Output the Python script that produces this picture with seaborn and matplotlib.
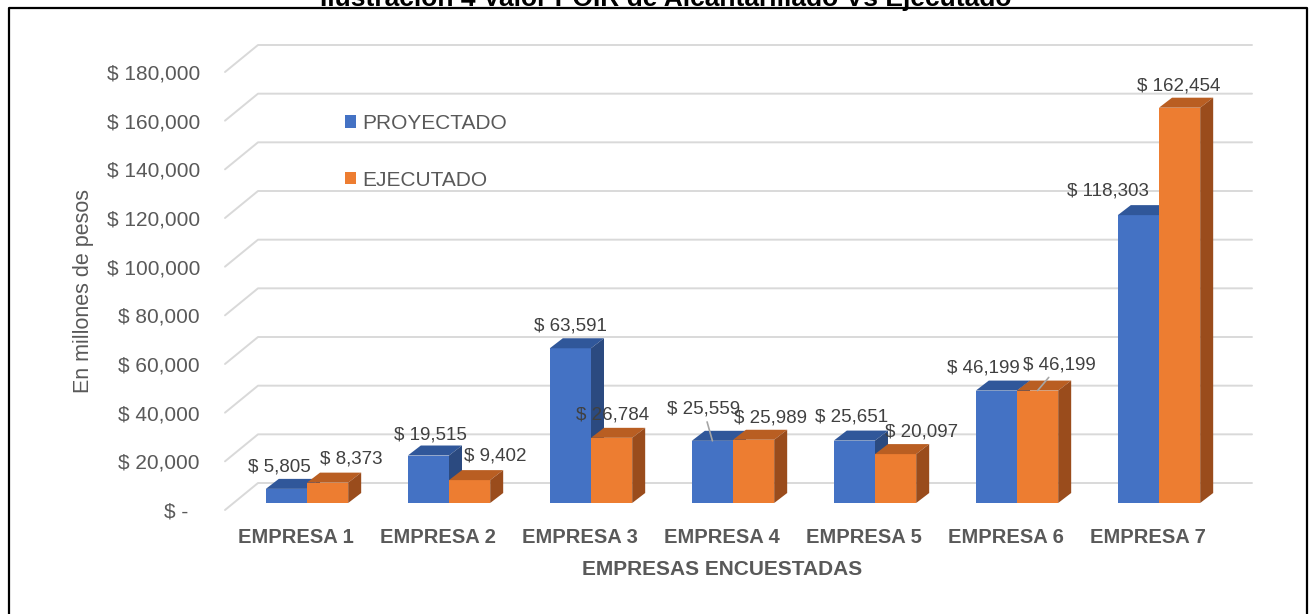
import matplotlib.pyplot as plt
from matplotlib.lines import Line2D
from matplotlib.patches import Patch, Polygon
import pandas as pd
import seaborn as sns

# data
empresas = ['EMPRESA 1', 'EMPRESA 2', 'EMPRESA 3', 'EMPRESA 4',
            'EMPRESA 5', 'EMPRESA 6', 'EMPRESA 7']
proyectado = [5805, 19515, 63591, 25559, 25651, 46199, 118303]
ejecutado = [8373, 9402, 26784, 25989, 20097, 46199, 162454]
series = ['PROYECTADO', 'EJECUTADO']
y_ticks = [0, 20000, 40000, 60000, 80000, 100000, 120000, 140000, 160000, 180000]

title = 'Ilustración 4 Valor POIR de Alcantarillado Vs Ejecutado'
x_title = 'EMPRESAS ENCUESTADAS'
y_title = 'En millones de pesos'

# styling
front = ['#4472C4', '#ED7D31']
top_col = ['#30579A', '#B95E22']
side_col = ['#2B4A80', '#9A4C1C']
grey = '#595959'
# label offsets (px, screen direction) from each bar's front-top centre
nudge = [
    [(-7, -22), (2, -21), (0, -22), (-9, -32), (-3, -24), (-13, -23), (-30, -24)],
    [(24, -24), (26, -24), (1, -23), (17, -22), (26, -22), (22, -26), (-1, -22)],
]
leader = [[False, False, False, True, False, False, False],
          [False, False, False, False, False, True, False]]

W, H, DPI = 1309, 614, 100
sns.set_style('white')
plt.rcParams['font.family'] = ['Liberation Sans', 'DejaVu Sans']

fig = plt.figure(figsize=(W / DPI, H / DPI), dpi=DPI)
ax = fig.add_axes([225 / W, 1 - 510 / H, 994 / W, 438 / H])

df = pd.DataFrame({
    'empresa': empresas * 2,
    'valor': proyectado + ejecutado,
    'serie': [series[0]] * len(empresas) + [series[1]] * len(empresas),
})
sns.barplot(data=df, x='empresa', y='valor', hue='serie', palette=front,
            width=0.58, saturation=1, errorbar=None, legend=False,
            linewidth=0, ax=ax)
ax.set_xlim(-0.5, 6.5)
ax.set_ylim(0, 180000)

# pixel -> data units
ux = 7 / 994
uy = 180000 / 438

# perspective grid: side wall + back wall
wall_dx, wall_dy = 33 * ux, 27 * uy
for v in y_ticks:
    ax.plot([-0.5, -0.5 + wall_dx, 6.5 + wall_dx], [v, v + wall_dy, v + wall_dy],
            color='#D9D9D9', lw=1.4, zorder=0.5, clip_on=False)

# pseudo 3D bars
shift_x, shift_y = 11 * ux, 7 * uy
bdx, bdy = 13 * ux, 10 * uy
for k, cont in enumerate(ax.containers):
    for i, bar in enumerate(cont):
        bar.set_x(bar.get_x() + shift_x)
        bar.set_y(bar.get_y() + shift_y)
        bar.set_zorder(2 + k)
        x0, x1 = bar.get_x(), bar.get_x() + bar.get_width()
        y0, y1 = bar.get_y(), bar.get_y() + bar.get_height()
        ax.add_patch(Polygon([(x0, y1), (x1, y1), (x1 + bdx, y1 + bdy), (x0 + bdx, y1 + bdy)],
                             closed=True, fc=top_col[k], ec='none', zorder=2.1 + k,
                             clip_on=False))
        ax.add_patch(Polygon([(x1, y0), (x1, y1), (x1 + bdx, y1 + bdy), (x1 + bdx, y0 + bdy)],
                             closed=True, fc=side_col[k], ec='none', zorder=2.1 + k,
                             clip_on=False))
        dx, dy = nudge[k][i]
        arrow = dict(arrowstyle='-', color='#A6A6A6', lw=1.2,
                     shrinkA=1, shrinkB=0) if leader[k][i] else None
        ax.annotate(f'$ {bar.get_height():,.0f}', xy=((x0 + x1) / 2, y1),
                    xytext=(dx * 72 / DPI, -dy * 72 / DPI), textcoords='offset points',
                    ha='center', va='center', fontsize=13.5, color='#404040',
                    arrowprops=arrow, zorder=6, annotation_clip=False)

# axes styling
for s in ax.spines.values():
    s.set_visible(False)
ax.set_yticks(y_ticks)
ax.set_yticklabels(['$ -  ' if v == 0 else f'$ {v:,}' for v in y_ticks])
ax.tick_params(axis='y', length=0, pad=18, labelsize=15, labelcolor=grey)
ax.tick_params(axis='x', length=0, pad=13, labelsize=14.5, labelcolor=grey)
for lbl in ax.get_xticklabels():
    lbl.set_fontweight('bold')

ax.set_xlabel(x_title, fontsize=15, fontweight='bold', color=grey)
ax.xaxis.set_label_coords(0.5, -0.114)
ax.set_ylabel(y_title, fontsize=15.5, color=grey)
ax.yaxis.set_label_coords(-0.1419, 0.5)
ax.yaxis.label.set_verticalalignment('center')

handles = [Patch(facecolor=c, edgecolor='none') for c in front]
ax.legend(handles, series, loc='upper left', frameon=False, fontsize=15,
          labelcolor=grey, handlelength=0.53, handleheight=0.53,
          handletextpad=0.3, labelspacing=1.8, borderpad=0, borderaxespad=0,
          bbox_to_anchor=(345 / W, 1 - 114 / H), bbox_transform=fig.transFigure)

# cut-off title and frame
fig.text(666 / W, 1 - 6 / H, title, ha='center', va='baseline',
         fontsize=19, fontweight='bold', color='black')
fx = [9 / W, 9 / W, 1307 / W, 1307 / W]
fy = [0, 1 - 8 / H, 1 - 8 / H, 0]
fig.add_artist(Line2D(fx, fy, color='black', lw=1.6))

fig.savefig('out.png', dpi=DPI)
